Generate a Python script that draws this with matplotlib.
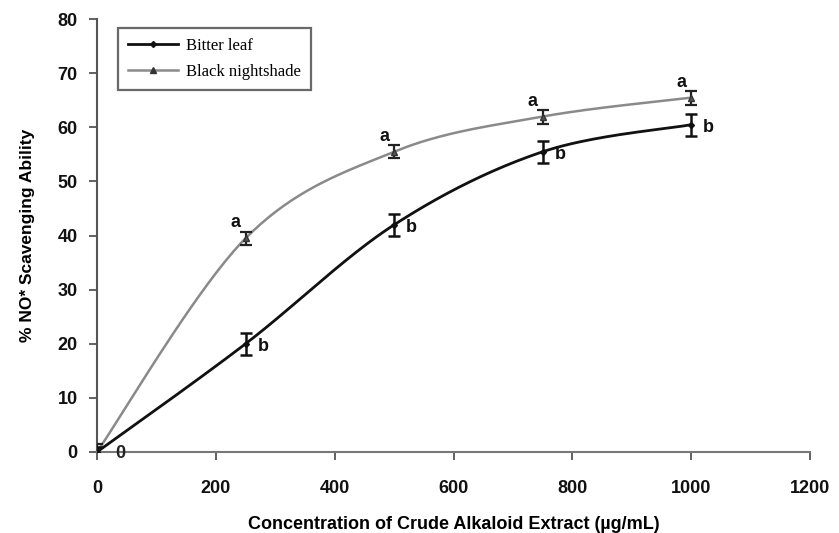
import numpy as np
import matplotlib
matplotlib.use("Agg")
import matplotlib.pyplot as plt

conc = [0, 250, 500, 750, 1000]
bitter = [0.0, 20.0, 42.0, 55.5, 60.5]
bitter_err = [1.0, 2.0, 2.0, 2.0, 2.0]
night = [0.0, 39.5, 55.5, 62.0, 65.5]
night_err = [1.5, 1.2, 1.2, 1.3, 1.3]
bitter_letters = ["", "b", "b", "b", "b"]
night_letters = ["", "a", "a", "a", "a"]
xticks = [0, 200, 400, 600, 800, 1000, 1200]
yticks = [0, 10, 20, 30, 40, 50, 60, 70, 80]


def smooth(x, y, n=40):
    # Excel-like smoothed line (Catmull-Rom Bezier through the points)
    x = np.asarray(x, float); y = np.asarray(y, float)
    px, py = [], []
    for i in range(len(x) - 1):
        x0, y0 = (x[i - 1], y[i - 1]) if i > 0 else (x[i], y[i])
        x3, y3 = (x[i + 2], y[i + 2]) if i + 2 < len(x) else (x[i + 1], y[i + 1])
        x1, y1, x2, y2 = x[i], y[i], x[i + 1], y[i + 1]
        c1x = x1 + (x2 - x0) / 6; c1y = y1 + (y2 - y0) / 6
        c2x = x2 - (x3 - x1) / 6; c2y = y2 - (y3 - y1) / 6
        t = np.linspace(0, 1, n)
        bx = (1-t)**3*x1 + 3*(1-t)**2*t*c1x + 3*(1-t)*t**2*c2x + t**3*x2
        by = (1-t)**3*y1 + 3*(1-t)**2*t*c1y + 3*(1-t)*t**2*c2y + t**3*y2
        px.extend(bx); py.extend(by)
    return np.array(px), np.array(py)


fig = plt.figure(figsize=(8.39, 5.33), dpi=100)
ax = fig.add_axes([0.1156, 0.152, 0.85, 0.812])

grey = "#8a8a8a"
sx, sy = smooth(conc, night)
ax.plot(sx, sy, color=grey, lw=1.8, zorder=2)
bx_, by_ = smooth(conc, bitter)
ax.plot(bx_, by_, color="#111111", lw=2.0, zorder=3)

ax.errorbar(conc, night, yerr=night_err, fmt="^", ms=4, color="#333333",
            mfc="#555555", ecolor="#222222", elinewidth=1.6, capsize=4, capthick=1.6, zorder=4)
ax.errorbar(conc, bitter, yerr=bitter_err, fmt="D", ms=3, color="#111111",
            ecolor="#111111", elinewidth=1.8, capsize=4.5, capthick=1.8, zorder=5)

for x, y, l in zip(conc, night, night_letters):
    if l:
        ax.text(x - 8, y + 1.3, l, fontsize=13, fontweight="bold", ha="right", va="bottom",
                family="Liberation Sans", color="#111111")
for x, y, l in zip(conc, bitter, bitter_letters):
    if l:
        ax.text(x + 20, y - 0.5, l, fontsize=13, fontweight="bold", ha="left", va="center",
                family="Liberation Sans", color="#111111")
ax.text(40, -0.3, "0", fontsize=13, fontweight="bold", ha="center", va="center",
        family="Liberation Sans", color="#222222")

# legend proxies
ax.plot([], [], color="#111111", lw=2, marker="D", ms=3, label="Bitter leaf")
ax.plot([], [], color=grey, lw=1.8, marker="^", ms=4, mfc="#333333", mec="#333333",
        label="Black nightshade")
h, lab = ax.get_legend_handles_labels()
leg = ax.legend(h[-2:], lab[-2:], loc="upper left", bbox_to_anchor=(0.018, 1.0),
                prop={"family": "Liberation Serif", "size": 12}, frameon=True,
                fancybox=False, edgecolor="#444444", handlelength=3.0, borderpad=0.6,
                labelspacing=0.6, handletextpad=0.5)
leg.get_frame().set_linewidth(1.6)

ax.set_xlim(0, 1200)
ax.set_ylim(0, 80)
ax.set_xticks(xticks)
ax.set_yticks(yticks)
for s in ["top", "right"]:
    ax.spines[s].set_visible(False)
ax.spines["left"].set_color("#555555")
ax.spines["bottom"].set_color("#777777")
ax.spines["left"].set_linewidth(1.5)
ax.spines["bottom"].set_linewidth(1.5)
ax.tick_params(direction="out", length=6, width=1.3, colors="#555555", labelsize=13,
               labelcolor="#111111")
for t in ax.get_xticklabels() + ax.get_yticklabels():
    t.set_fontweight("bold"); t.set_family("Liberation Sans")
ax.tick_params(axis="x", pad=14)
ax.tick_params(axis="y", pad=8)

ax.set_xlabel("Concentration of Crude Alkaloid Extract (µg/mL)", fontsize=13,
              fontweight="bold", family="Liberation Sans", labelpad=14)
ax.set_ylabel("% NO* Scavenging Ability", fontsize=12.5, fontweight="bold",
              family="Liberation Sans", labelpad=16)

fig.savefig("out.png", dpi=100)
